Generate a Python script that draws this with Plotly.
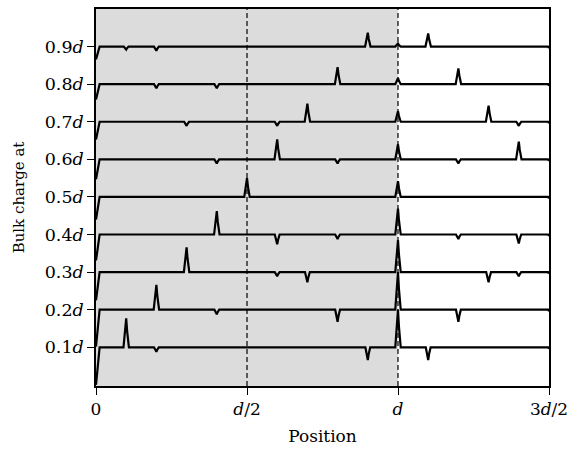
import plotly.graph_objects as go

# ---- data ----
levels = [0.1, 0.2, 0.3, 0.4, 0.5, 0.6, 0.7, 0.8, 0.9]
level_labels = ["0.1<i>d</i>", "0.2<i>d</i>", "0.3<i>d</i>", "0.4<i>d</i>", "0.5<i>d</i>",
                "0.6<i>d</i>", "0.7<i>d</i>", "0.8<i>d</i>", "0.9<i>d</i>"]
start_drop = [0.100, 0.098, 0.075, 0.069, 0.060, 0.053, 0.047, 0.041, 0.034]

spike_pos = [
    [0.1, 0.2, 0.9, 1.0, 1.1],
    [0.2, 0.4, 0.8, 1.0, 1.2],
    [0.3, 0.6, 0.7, 1.0, 1.3, 1.4],
    [0.4, 0.6, 0.8, 1.0, 1.2, 1.4],
    [0.5, 1.0],
    [0.4, 0.6, 0.8, 1.0, 1.2, 1.4],
    [0.3, 0.6, 0.7, 1.0, 1.3, 1.4],
    [0.2, 0.4, 0.8, 1.0, 1.2],
    [0.1, 0.2, 0.9, 1.0, 1.1],
]
spike_amp = [
    [0.077, -0.012, -0.034, 0.100, -0.034],
    [0.066, -0.012, -0.032, 0.100, -0.032],
    [0.066, -0.011, -0.027, 0.085, -0.027, -0.011],
    [0.062, -0.026, -0.012, 0.069, -0.012, -0.024],
    [0.050, 0.042],
    [-0.011, 0.053, -0.011, 0.040, -0.011, 0.047],
    [-0.011, -0.011, 0.048, 0.028, 0.043, -0.011],
    [-0.011, -0.011, 0.045, 0.016, 0.042],
    [-0.008, -0.011, 0.037, 0.008, 0.035],
]

x_ticks = [0, 0.5, 1.0, 1.5]
x_labels = ["0", "<i>d</i>/2", "<i>d</i>", "3<i>d</i>/2"]

FONT = "DejaVu Serif"
fig = go.Figure()

for L, drop, pos, amp in zip(levels, start_drop, spike_pos, spike_amp):
    xs = [0.0, 0.012]
    ys = [L - drop, L]
    for p, a in zip(pos, amp):
        w = 0.009 if a > 0 else 0.008
        xs += [p - w, p - w * 0.35, p, p + w * 0.35, p + w]
        ys += [L, L + a * 0.55, L + a, L + a * 0.55, L]
    xs += [1.497, 1.5]
    ys += [L, L - 0.004]
    fig.add_trace(go.Scatter(x=xs, y=ys, mode="lines",
                             line=dict(color="black", width=2.2),
                             showlegend=False, hoverinfo="skip"))

fig.add_shape(type="rect", xref="x", yref="paper", x0=0, x1=1.0, y0=0, y1=1,
              fillcolor="#dcdcdc", line=dict(width=0), layer="below")
for xv in [0.5, 1.0]:
    fig.add_shape(type="line", xref="x", yref="paper", x0=xv, x1=xv, y0=0, y1=1,
                  line=dict(color="black", width=1.2, dash="5px,3px"), layer="below")

fig.update_layout(
    width=576, height=457,
    margin=dict(l=96, r=27, t=7, b=71),
    plot_bgcolor="white", paper_bgcolor="white",
    font=dict(family=FONT, size=17, color="black"),
    xaxis=dict(range=[0, 1.5], tickvals=x_ticks, ticktext=x_labels,
               showgrid=False, zeroline=False, showline=True, linecolor="black",
               linewidth=1.5, mirror=True, ticks="outside", ticklen=7,
               tickcolor="black", tickfont=dict(size=17),
               title=dict(text="Position", standoff=12, font=dict(size=17))),
    yaxis=dict(range=[-0.003, 1.0], tickvals=levels, ticktext=level_labels,
               showgrid=False, zeroline=False, showline=True, linecolor="black",
               linewidth=1.5, mirror=True, ticks="outside", ticklen=7,
               tickcolor="black", tickfont=dict(size=17.5),
               title=dict(text="Bulk charge at", standoff=16, font=dict(size=15))),
)

fig.write_html("out.html", config={"displayModeBar": False},
               post_script="document.body.style.margin='0';document.body.style.overflow='hidden';")
